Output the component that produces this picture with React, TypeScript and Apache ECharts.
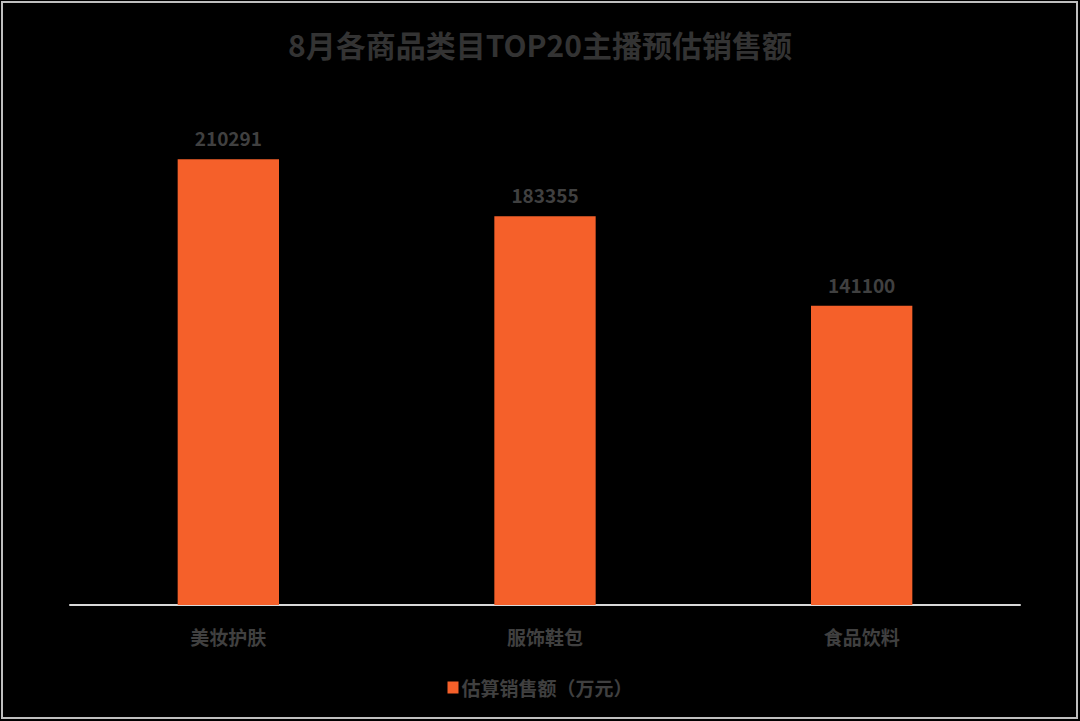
import React, { useEffect, useRef } from "react";
import * as echarts from "echarts";

const categories = ["美妆护肤", "服饰鞋包", "食品饮料"];
const salesValues = [210291, 183355, 141100];
const seriesName = "估算销售额（万元）";
const titleText = "8月各商品类目TOP20主播预估销售额";

const FONT = "'Noto Sans CJK SC', 'Noto Sans', sans-serif";

export default function App() {
  const ref = useRef<HTMLDivElement>(null);
  useEffect(() => {
    if (!ref.current) return;
    const chart = echarts.init(ref.current, undefined, { renderer: "svg" });
    chart.setOption({
      animation: false,
      backgroundColor: "#000000",
      title: {
        text: titleText,
        left: "center",
        top: 24,
        textStyle: { color: "#333333", fontSize: 30, fontWeight: "bold", fontFamily: FONT },
      },
      legend: {
        bottom: 19,
        left: "center",
        itemWidth: 11,
        itemHeight: 12,
        itemGap: 4,
        icon: "rect",
        textStyle: { color: "#404040", fontSize: 19, fontFamily: FONT, fontWeight: "bold", padding: [0, 0, 0, -2] },
        data: [seriesName],
      },
      grid: { left: 70, right: 60, top: 75, bottom: 116, containLabel: false },
      xAxis: {
        type: "category",
        data: categories,
        axisLine: { show: true, lineStyle: { color: "#d9d9d9", width: 2 } },
        axisTick: { show: false },
        axisLabel: { color: "#404040", fontSize: 19, fontWeight: "bold", fontFamily: FONT, margin: 22 },
      },
      yAxis: {
        type: "value",
        min: 0,
        max: 250000,
        show: false,
        splitLine: { show: false },
      },
      series: [
        {
          name: seriesName,
          type: "bar",
          data: salesValues,
          barWidth: "32%",
          itemStyle: { color: "#F5602A" },
          label: {
            show: true,
            position: "top",
            distance: 12,
            color: "#404040",
            fontSize: 19,
            fontWeight: "bold",
            fontFamily: FONT,
          },
        },
      ],
      graphic: [
        {
          type: "rect",
          shape: { x: 2, y: 2, width: 1075, height: 716 },
          style: { fill: "none", stroke: "#bfbfbf", lineWidth: 2 },
          silent: true,
        },
      ],
    });
    return () => chart.dispose();
  }, []);
  return (
    <div
      ref={ref}
      style={{ position: "fixed", left: 0, top: 0, width: 1080, height: 721 }}
    />
  );
}
